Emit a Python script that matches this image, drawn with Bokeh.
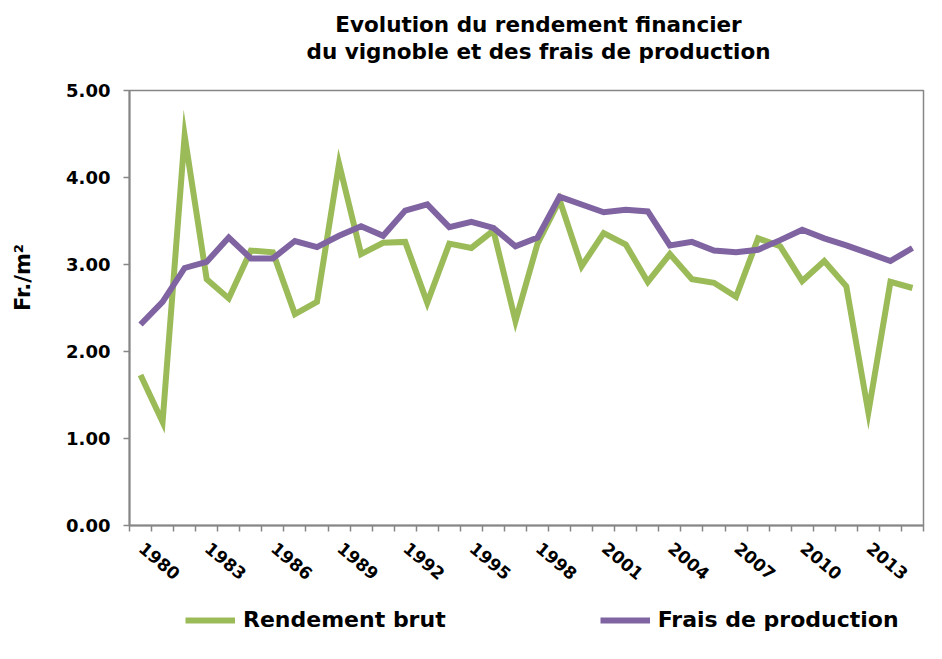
import math
from bokeh.plotting import figure
from bokeh.layouts import column, row
from bokeh.models import (Range1d, FixedTicker, LinearAxis, NumeralTickFormatter,
                          Legend, LegendItem, ColumnDataSource, Label)
from bokeh.embed import file_html
from bokeh.resources import INLINE

# ---------------- data ----------------
years = list(range(1979, 2015))
rendement_brut = [1.73, 1.19, 4.48, 2.83, 2.61, 3.16, 3.14, 2.43, 2.57, 4.16,
                  3.12, 3.25, 3.26, 2.56, 3.24, 3.19, 3.39, 2.35, 3.24, 3.74,
                  2.98, 3.36, 3.23, 2.80, 3.12, 2.83, 2.79, 2.63, 3.30, 3.21,
                  2.81, 3.04, 2.75, 1.30, 2.80, 2.73]
frais_production = [2.31, 2.57, 2.96, 3.03, 3.31, 3.07, 3.07, 3.27, 3.20, 3.33,
                     3.44, 3.33, 3.62, 3.69, 3.43, 3.49, 3.42, 3.21, 3.31, 3.78,
                     3.69, 3.60, 3.63, 3.61, 3.22, 3.26, 3.16, 3.14, 3.17, 3.28,
                     3.40, 3.30, 3.22, 3.13, 3.04, 3.19]
label_years = list(range(1980, 2014, 3))
y_ticks = [0, 1, 2, 3, 4, 5]
title_lines = ["Evolution du rendement financier",
               "du vignoble et des frais de production"]
y_label = "Fr./m²"
series_names = ["Rendement brut", "Frais de production"]

FONT = "DejaVu Sans"
GREEN = "#9BBB59"
PURPLE = "#8064A2"
AXIS_GRAY = "#868686"


def blank(width, height):
    f = figure(width=width, height=height, output_backend="svg", toolbar_location=None,
               x_axis_location=None, y_axis_location=None, min_border=0,
               outline_line_color=None, background_fill_color="white",
               border_fill_color="white")
    f.grid.visible = False
    return f


src = ColumnDataSource(dict(year=years, rb=rendement_brut, fp=frais_production))

# ---------------- title strip ----------------
t = blank(926, 72)
for txt, yy in zip(title_lines, [48, 21]):
    t.add_layout(Label(x=538, y=yy, x_units="screen", y_units="screen", text=txt,
                       text_align="center", text_baseline="alphabetic",
                       text_font=FONT, text_font_size="21.5px", text_font_style="bold",
                       text_color="black"))

# ---------------- y axis title strip ----------------
yl = blank(40, 523)
yl.add_layout(Label(x=22, y=248, x_units="screen", y_units="screen", text=y_label,
                    angle=math.pi / 2, text_align="center", text_baseline="middle",
                    text_font=FONT, text_font_size="21px", text_font_style="bold",
                    text_color="black"))

# ---------------- main chart ----------------
p = figure(width=886, height=523, output_backend="svg", toolbar_location=None,
           x_range=Range1d(years[0] - 0.5, years[-1] + 0.5),
           y_range=Range1d(y_ticks[0], y_ticks[-1]),
           x_axis_location=None,
           min_border_left=89, min_border_right=3,
           min_border_top=18, min_border_bottom=70,
           background_fill_color="white", border_fill_color="white")
p.grid.visible = False
p.outline_line_color = AXIS_GRAY
p.outline_line_width = 1.5

# x axis: year labels centred under their category (Excel style, rotated),
# tick marks at the category boundaries (minor ticks)
shift = 0.95
p.extra_x_ranges = {"lab": Range1d(years[0] - 0.5 + shift, years[-1] + 0.5 + shift)}
boundaries = [y - 0.5 + shift for y in years] + [years[-1] + 0.5 + shift]
xa = LinearAxis(x_range_name="lab",
                ticker=FixedTicker(ticks=label_years, minor_ticks=boundaries),
                axis_line_color=AXIS_GRAY, axis_line_width=2,
                major_tick_line_color=None, major_tick_out=6, major_tick_in=0,
                minor_tick_line_color=AXIS_GRAY, minor_tick_line_width=1.5,
                minor_tick_out=6, minor_tick_in=0,
                major_label_orientation=-0.7, major_label_standoff=14,
                major_label_text_font=FONT, major_label_text_font_size="17px",
                major_label_text_font_style="bold", major_label_text_color="black")
p.add_layout(xa, "below")

ya = p.yaxis[0]
ya.ticker = FixedTicker(ticks=y_ticks, minor_ticks=[])
ya.formatter = NumeralTickFormatter(format="0.00")
ya.axis_line_color = AXIS_GRAY
ya.axis_line_width = 2
ya.major_tick_line_color = AXIS_GRAY
ya.major_tick_line_width = 1.5
ya.major_tick_out = 6
ya.major_tick_in = 0
ya.minor_tick_line_color = None
ya.major_label_standoff = 13
ya.major_label_text_font = FONT
ya.major_label_text_font_size = "18px"
ya.major_label_text_font_style = "bold"
ya.major_label_text_color = "black"

p.line("year", "rb", source=src, line_color=GREEN, line_width=6, line_join="miter")
p.line("year", "fp", source=src, line_color=PURPLE, line_width=6, line_join="miter")

# ---------------- legend strip ----------------
q = blank(926, 48)
q.x_range = Range1d(years[0] - 0.5, years[-1] + 0.5)
q.y_range = Range1d(100, 101)   # series drawn out of view: only the legend shows
g1 = q.line("year", "rb", source=src, line_color=GREEN, line_width=6)
g2 = q.line("year", "fp", source=src, line_color=PURPLE, line_width=6)
legend = Legend(items=[LegendItem(label=series_names[0], renderers=[g1]),
                       LegendItem(label=series_names[1], renderers=[g2])],
                location=(185, 11), orientation="horizontal", spacing=154,
                glyph_width=50, glyph_height=20, label_standoff=8,
                padding=0, margin=0, border_line_color=None,
                background_fill_alpha=0,
                label_text_font=FONT, label_text_font_size="22px",
                label_text_font_style="bold", label_text_color="black")
q.add_layout(legend, "center")

layout = column(t, row(yl, p), q)
open("out.html", "w").write(file_html(layout, INLINE))
